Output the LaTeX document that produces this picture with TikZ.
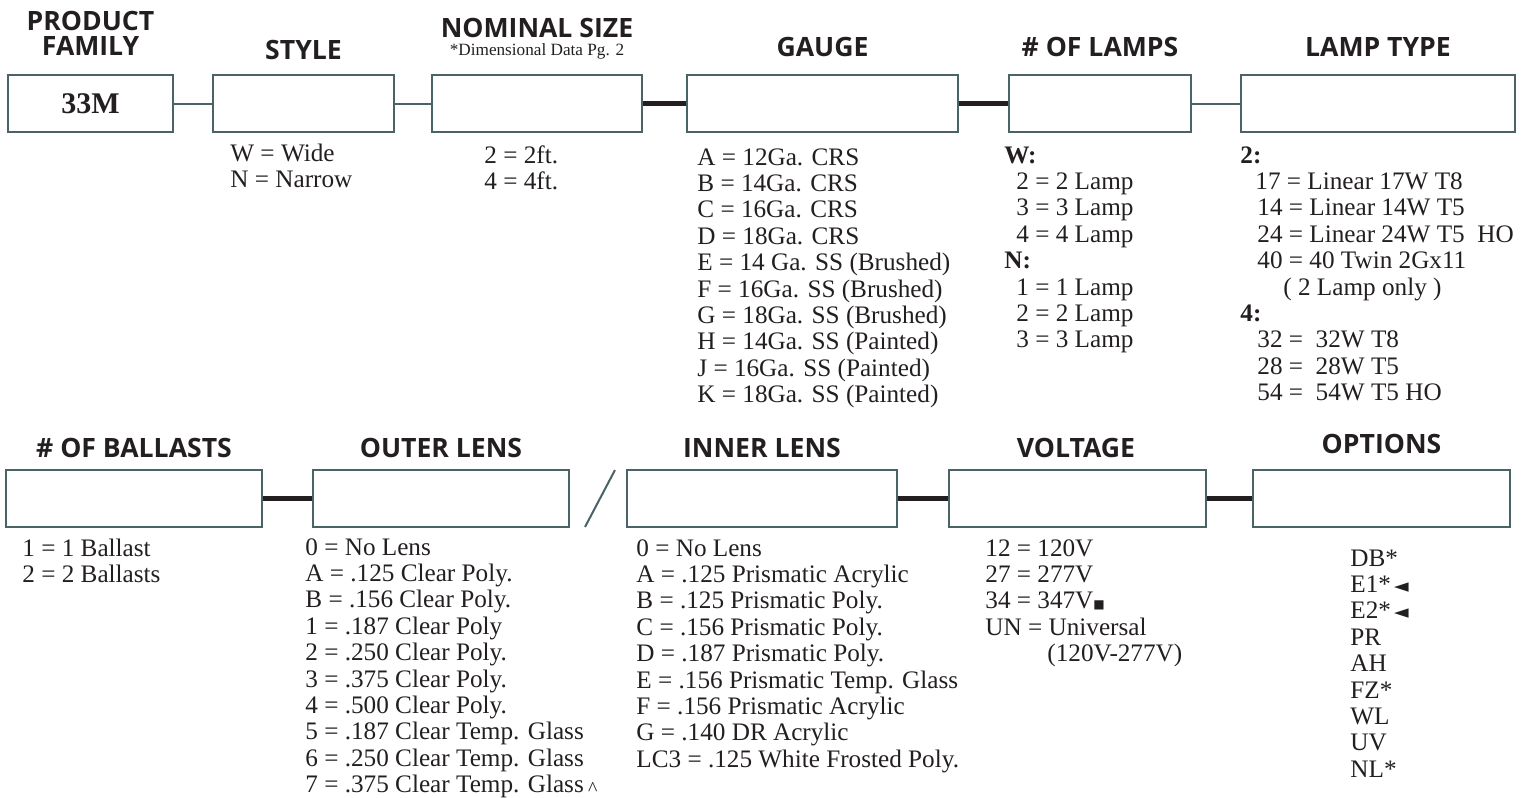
\documentclass[tikz,border=0pt]{standalone}
\usepackage{fontspec}
\setmainfont{Liberation Serif}
\newfontfamily\headfont{Open Sans}
\newfontfamily\symfont{DejaVu Sans}
\definecolor{boxline}{HTML}{4A6366}
\definecolor{inkcol}{HTML}{231F20}

\begin{document}
\begin{tikzpicture}[x=0.5pt,y=-0.5pt]
\tikzset{
  fieldbox/.style={draw=boxline,line width=1pt,minimum height=28.5pt,inner sep=0pt,text=inkcol,font=\bfseries\fontsize{15pt}{17pt}\selectfont},
  heading/.style={font=\headfont\bfseries\fontsize{13.3pt}{12.5pt}\selectfont,text=inkcol,align=center,inner sep=0pt,anchor=base},
  subnote/.style={font=\fontsize{8.6pt}{10pt}\selectfont,text=inkcol,inner sep=0pt,anchor=base},
  codelist/.style={font=\fontsize{12.6pt}{13.2pt}\selectfont,text=inkcol,align=left,inner sep=0pt,anchor=base west},
  thinlink/.style={draw=boxline,line width=1pt},
  thicklink/.style={draw=inkcol,line width=2.5pt}
}
\newcommand{\tri}{{\symfont\fontsize{9.5pt}{9.5pt}\selectfont\,◄}}
\newcommand{\blk}{{\symfont\fontsize{6pt}{6pt}\selectfont ■}}
\useasboundingbox (0,0) rectangle (1538,798);

% top row
\node[fieldbox,minimum width=82.5pt] (b_family) at (90.5,103.5) {33M};
\node[fieldbox,minimum width=90.5pt] (b_style) at (303.5,103.5) {};
\node[fieldbox,minimum width=105pt] (b_size) at (537,103.5) {};
\node[fieldbox,minimum width=135.5pt] (b_gauge) at (822.5,103.5) {};
\node[fieldbox,minimum width=91pt] (b_lamps) at (1100,103.5) {};
\node[fieldbox,minimum width=137pt] (b_ltype) at (1378,103.5) {};

% bottom row
\node[fieldbox,minimum width=128pt] (b_ballast) at (134,498.5) {};
\node[fieldbox,minimum width=128pt] (b_outer) at (441,498.5) {};
\node[fieldbox,minimum width=135pt] (b_inner) at (762,498.5) {};
\node[fieldbox,minimum width=128.5pt] (b_volt) at (1077.5,498.5) {};
\node[fieldbox,minimum width=128.5pt] (b_opts) at (1381.5,498.5) {};
\coordinate (sl_bot) at (585,527);
\coordinate (sl_top) at (615,470);

\draw[thinlink] (b_family) -- (b_style);
\draw[thinlink] (b_style) -- (b_size);
\draw[thicklink] (b_size) -- (b_gauge);
\draw[thicklink] (b_gauge) -- (b_lamps);
\draw[thinlink] (b_lamps) -- (b_ltype);
\draw[thicklink] (b_ballast) -- (b_outer);
\draw[thinlink] (sl_bot) -- (sl_top);
\draw[thicklink] (b_inner) -- (b_volt);
\draw[thicklink] (b_volt) -- (b_opts);

% headings (base = last line)
\node[heading] (h_family) at (90.5,55) {PRODUCT\\FAMILY};
\node[heading] (h_style) at (303.5,59) {STYLE};
\node[heading] (h_size) at (537,37) {NOMINAL SIZE};
\node[subnote] (h_sizenote) at (537,55) {*Dimensional Data Pg. 2};
\node[heading] (h_gauge) at (822.5,56) {GAUGE};
\node[heading] (h_lamps) at (1100,56) {\# OF LAMPS};
\node[heading] (h_ltype) at (1378,56) {LAMP TYPE};
\node[heading] (h_ballast) at (134,457) {\# OF BALLASTS};
\node[heading] (h_outer) at (441,457) {OUTER LENS};
\node[heading] (h_inner) at (762,457) {INNER LENS};
\node[heading] (h_volt) at (1076,457) {VOLTAGE};
\node[heading] (h_opts) at (1381.5,453) {OPTIONS};

% code lists (placed at the baseline of their last line)
\node[codelist] (l_style) at (230,187.4) {W = Wide\\N = Narrow};
\node[codelist] (l_size) at (484,189.4) {2 = 2ft.\\4 = 4ft.};
\node[codelist] (l_gauge) at (697,402.6) {A = 12Ga. CRS\\B = 14Ga. CRS\\C = 16Ga. CRS\\D = 18Ga. CRS\\E = 14 Ga. SS (Brushed)\\F = 16Ga. SS (Brushed)\\G = 18Ga. SS (Brushed)\\H = 14Ga. SS (Painted)\\J = 16Ga. SS (Painted)\\K = 18Ga. SS (Painted)};
\node[codelist] (l_lamps) at (1004,347.8) {\textbf{W:}\\\hspace*{6pt}2 = 2 Lamp\\\hspace*{6pt}3 = 3 Lamp\\\hspace*{6pt}4 = 4 Lamp\\\textbf{N:}\\\hspace*{6pt}1 = 1 Lamp\\\hspace*{6pt}2 = 2 Lamp\\\hspace*{6pt}3 = 3 Lamp};
\node[codelist] (l_ltype) at (1240,400.6) {\textbf{2:}\\\hspace*{7.5pt}17 = Linear 17W T8\\\hspace*{8.5pt}14 = Linear 14W T5\\\hspace*{8.5pt}24 = Linear 24W T5\ \ HO\\\hspace*{8.5pt}40 = 40 Twin 2Gx11\\\hspace*{21.5pt}( 2 Lamp only )\\\textbf{4:}\\\hspace*{8.5pt}32 =\ \ 32W T8\\\hspace*{8.5pt}28 =\ \ 28W T5\\\hspace*{8.5pt}54 =\ \ 54W T5 HO};
\node[codelist] (l_ballast) at (22,582.4) {1 = 1 Ballast\\2 = 2 Ballasts};
\node[codelist] (l_outer) at (305,792.6) {0 = No Lens\\A = .125 Clear Poly.\\B = .156 Clear Poly.\\1 = .187 Clear Poly\\2 = .250 Clear Poly.\\3 = .375 Clear Poly.\\4 = .500 Clear Poly.\\5 = .187 Clear Temp. Glass\\6 = .250 Clear Temp. Glass\\7 = .375 Clear Temp. Glass\,{\fontsize{10pt}{10pt}\selectfont\raisebox{-1.5pt}{\textasciicircum}}};
\node[codelist] (l_inner) at (636,767.2) {0 = No Lens\\A = .125 Prismatic Acrylic\\B = .125 Prismatic Poly.\\C = .156 Prismatic Poly.\\D = .187 Prismatic Poly.\\E = .156 Prismatic Temp. Glass\\F = .156 Prismatic Acrylic\\G = .140 DR Acrylic\\LC3 = .125 White Frosted Poly.};
\node[codelist] (l_volt) at (985,661.6) {12 = 120V\\27 = 277V\\34 = 347V\blk\\UN = Universal\\\hspace*{31pt}(120V-277V)};
\node[codelist] (l_opts) at (1350,777.2) {DB*\\E1*\tri\\E2*\tri\\PR\\AH\\FZ*\\WL\\UV\\NL*};
\end{tikzpicture}
\end{document}
